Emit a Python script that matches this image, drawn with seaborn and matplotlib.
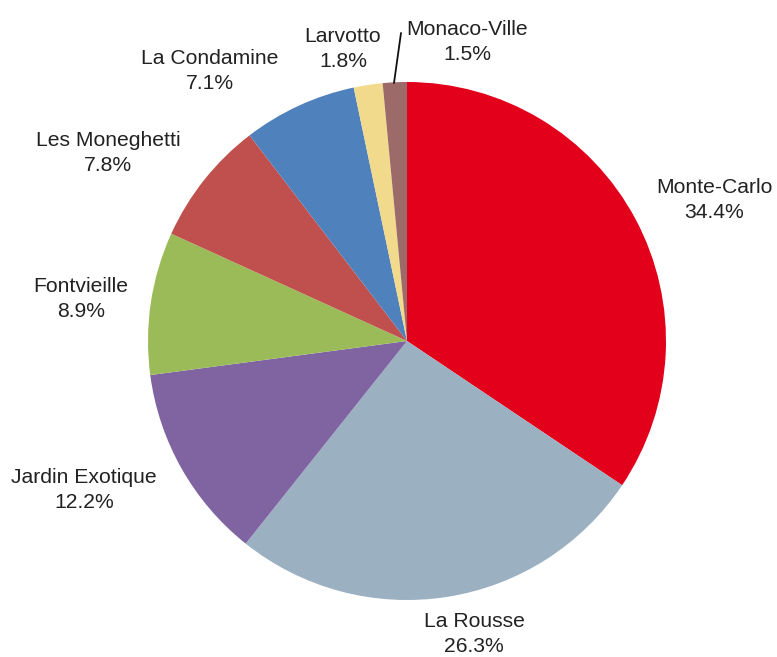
import matplotlib
matplotlib.use("Agg")
import matplotlib.pyplot as plt
import seaborn as sns
import numpy as np

categories = ["Monte-Carlo", "La Rousse", "Jardin Exotique", "Fontvieille",
              "Les Moneghetti", "La Condamine", "Larvotto", "Monaco-Ville"]
shares = [34.4, 26.3, 12.2, 8.9, 7.8, 7.1, 1.8, 1.5]
colors = ["#E2001A", "#9BB0C1", "#8064A2", "#9BBB59",
          "#C0504D", "#4F81BD", "#F2DA8C", "#9C6A68"]

sns.set_style("white")
plt.rcParams["font.family"] = ["Liberation Sans", "DejaVu Sans"]

W, H = 777, 657
fig = plt.figure(figsize=(W / 100, H / 100), dpi=100)
cx, cy, r = 407, 341, 259
ax = fig.add_axes([(cx - r) / W, (H - cy - r) / H, 2 * r / W, 2 * r / H])
ax.pie(shares, colors=colors, startangle=90, counterclock=False, radius=1,
       wedgeprops=dict(linewidth=0))
ax.set_xlim(-1, 1)
ax.set_ylim(-1, 1)
ax.set_aspect("equal")
ax.axis("off")

# label centres in pixel coordinates of the figure (layout only)
label_px = [(714, 200), (474, 634), (84, 490), (81, 299),
            (108, 153), (210, 71), (343, 49), (467, 42)]

def to_data(px, py):
    return (px - cx) / r, (cy - py) / r

for name, val, (px, py) in zip(categories, shares, label_px):
    x, y = to_data(px, py)
    ax.text(x, y, f"{name}\n{val:.1f}%", ha="center", va="center",
            fontsize=15.2, color="#222222", linespacing=1.36, clip_on=False)

# leader line for Monaco-Ville
x0, y0 = to_data(394, 83)
x1, y1 = to_data(401, 33)
ax.plot([x0, x1], [y0, y1], color="#111111", lw=1.3, clip_on=False)

fig.savefig("out.png", dpi=100, facecolor="white")
